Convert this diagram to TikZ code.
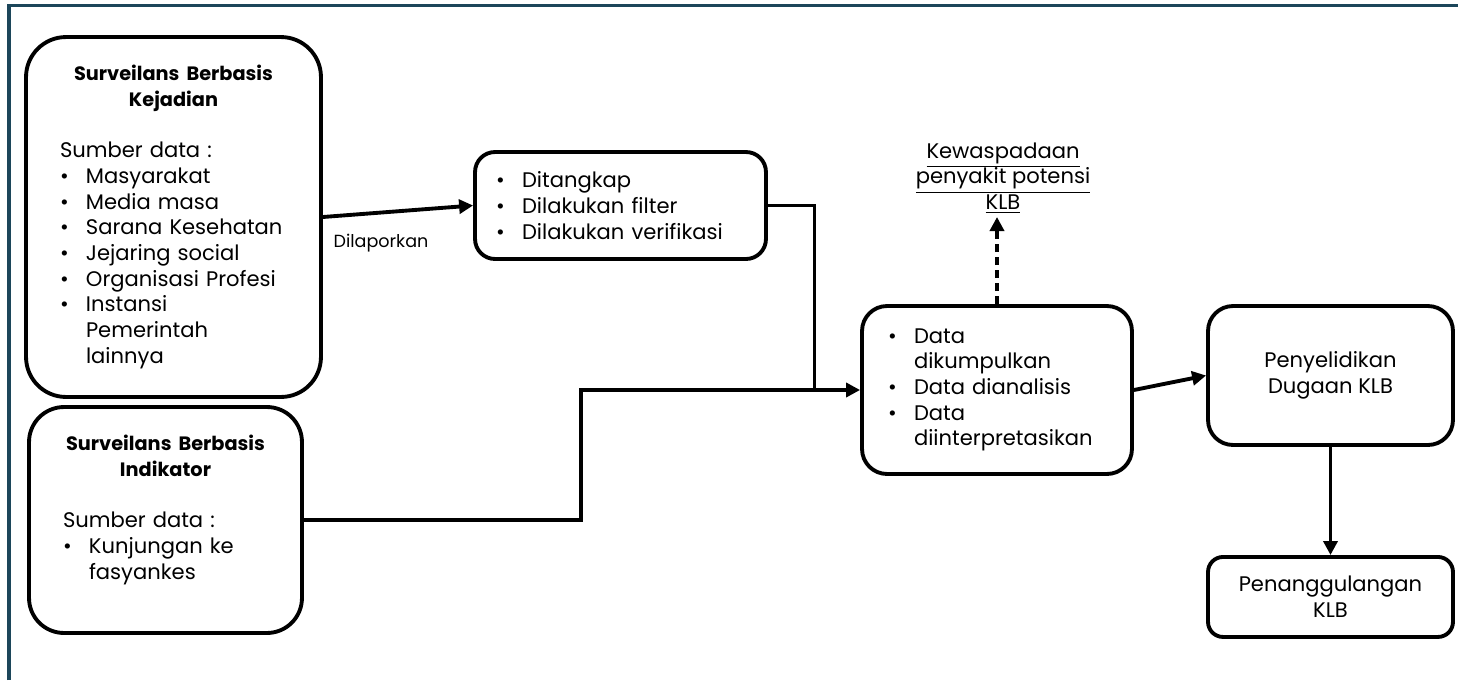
\documentclass[tikz,border=0pt]{standalone}
\usepackage{fontspec}
\setmainfont{Poppins}
\usepackage{xcolor}
\usetikzlibrary{positioning}
\usetikzlibrary{arrows.meta}

\definecolor{frameteal}{RGB}{28,70,90}

% bullet line and its continuation
\newcommand{\itm}[1]{\makebox[0.52cm][l]{\textbullet}#1}
\newcommand{\cnt}[1]{\hspace*{0.52cm}#1}
\newcommand{\ttl}[1]{{\centering\fontsize{11}{14.6}\selectfont\bfseries #1\par}}

\begin{document}
\begin{tikzpicture}[x=0.02cm,y=-0.02cm,on grid,
  box/.style={draw,line width=2.2pt,align=left,font=\fontsize{12}{14.6}\selectfont},
  plainbox/.style={draw,line width=2.2pt,align=center,font=\fontsize{12}{14.6}\selectfont},
  arr/.style={line width=2.2pt,-{Triangle[length=0.28cm,width=0.28cm]}},
  link/.style={line width=1.7pt},
  dasharr/.style={line width=2.2pt,dash pattern=on 0.16cm off 0.1cm,-{Triangle[length=0.28cm,width=0.28cm]}},
  lbl/.style={font=\fontsize{10}{12}\selectfont}]
  \useasboundingbox (0,0) rectangle (1458,680);
  \draw[frameteal,line width=2.2pt] (9,680) -- (9,5.5) -- (1458,5.5);

  \node[box,rounded corners=0.8cm,text width=4.54cm,inner xsep=0.68cm,minimum height=7.2cm] (kej) at (173.5,217)
    {\ttl{Surveilans Berbasis\\Kejadian}\vspace{\baselineskip}
     Sumber data :\\
     \itm{Masyarakat}\\
     \itm{Media masa}\\
     \itm{Sarana Kesehatan}\\
     \itm{Jejaring social}\\
     \itm{Organisasi Profesi}\\
     \itm{Instansi}\\
     \cnt{Pemerintah}\\
     \cnt{lainnya}};
  \node[box,rounded corners=0.7cm,text width=4.1cm,inner xsep=0.68cm,minimum height=4.52cm] (ind) at (165.5,520)
    {\ttl{Surveilans Berbasis\\Indikator}\vspace{\baselineskip}
     Sumber data :\\
     \itm{Kunjungan ke}\\
     \cnt{fasyankes}\\
     \mbox{}};
  \node[box,rounded corners=0.4cm,text width=4.98cm,inner xsep=0.42cm,minimum height=2.14cm] (tangkap) at (620.5,205.5)
    {\itm{Ditangkap}\\
     \itm{Dilakukan filter}\\
     \itm{Dilakukan verifikasi}};
  \node[box,rounded corners=0.5cm,text width=4.36cm,inner xsep=0.52cm,minimum height=3.36cm] (data) at (997,390)
    {\itm{Data}\\
     \cnt{dikumpulkan}\\
     \itm{Data dianalisis}\\
     \itm{Data}\\
     \cnt{diinterpretasikan}};
  \node[plainbox,rounded corners=0.5cm,minimum width=4.9cm,minimum height=2.78cm] (selidik) at (1330.5,375.5)
    {Penyelidikan\\Dugaan KLB};
  \node[plainbox,rounded corners=0.3cm,minimum width=4.9cm,minimum height=1.6cm] (tanggul) [below=4.43cm of selidik]
    {Penanggulangan\\KLB};
  \node[align=center,font=\fontsize{12}{14.6}\selectfont,anchor=south,inner sep=2pt] (waspada) at (1003,217)
    {\underline{Kewaspadaan}\\\underline{penyakit potensi}\\\underline{KLB}};
  \node[lbl] (lapor) at (381,243) {Dilaporkan};

  \coordinate (junc) at (814,390);
  \coordinate (bend) at (581,390);

  \draw[arr] (kej.east) -- (tangkap.west);
  \draw[link] (tangkap.east) -| (junc);
  \draw[arr] (ind.east) -| (bend) -- (data.west);
  \draw[arr] (data.east) -- (selidik.west);
  \draw[dasharr] (data.north) -- (data.north |- waspada.south);
  \draw[arr] (selidik.south) -- (tanggul.north);
\end{tikzpicture}
\end{document}
